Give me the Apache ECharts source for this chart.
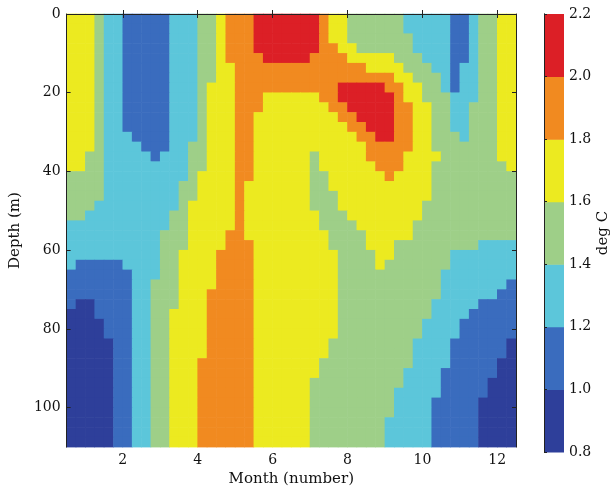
<!DOCTYPE html>
<html><head><meta charset="utf-8">
<script src="https://cdn.jsdelivr.net/npm/echarts@6/dist/echarts.min.js"></script>
<style>html,body{margin:0;padding:0;background:#fff}#c{width:612px;height:492px}</style>
</head><body><div id="c"></div>
<script>
// Grid cell centres (month, depth) of the sampled temperature field
const months = [0.625,0.875,1.125,1.375,1.625,1.875,2.125,2.375,2.625,2.875,3.125,3.375,3.625,3.875,4.125,4.375,
  4.625,4.875,5.125,5.375,5.625,5.875,6.125,6.375,6.625,6.875,7.125,7.375,7.625,7.875,8.125,8.375,
  8.625,8.875,9.125,9.375,9.625,9.875,10.125,10.375,10.625,10.875,11.125,11.375,11.625,11.875,12.125,12.375];
const depths = [1.25,3.75,6.25,8.75,11.25,13.75,16.25,18.75,21.25,23.75,26.25,28.75,31.25,33.75,36.25,38.75,
  41.25,43.75,46.25,48.75,51.25,53.75,56.25,58.75,61.25,63.75,66.25,68.75,71.25,73.75,76.25,78.75,
  81.25,83.75,86.25,88.75,91.25,93.75,96.25,98.75,101.25,103.75,106.25,108.75];
// temperature (deg C): one row per depth, one column per month cell
const temperature = [
 [1.7,1.7,1.7, 1.5, 1.3,1.3, 1.1,1.1,1.1,1.1,1.1, 1.3,1.3,1.3, 1.5,1.5, 1.7, 1.9,1.9,1.9, 2.1,2.1,2.1,2.1,2.1,2.1,2.1, 1.9, 1.7,1.7, 1.5,1.5,1.5,1.5,1.5,1.5, 1.3,1.3,1.3,1.3,1.3, 1.1,1.1, 1.3, 1.5,1.5, 1.7,1.7],
 [1.7,1.7,1.7, 1.5, 1.3,1.3, 1.1,1.1,1.1,1.1,1.1, 1.3,1.3,1.3, 1.5,1.5, 1.7, 1.9,1.9,1.9, 2.1,2.1,2.1,2.1,2.1,2.1,2.1, 1.9, 1.7,1.7, 1.5,1.5,1.5,1.5,1.5,1.5, 1.3,1.3,1.3,1.3,1.3, 1.1,1.1, 1.3, 1.5,1.5, 1.7,1.7],
 [1.7,1.7,1.7, 1.5, 1.3,1.3, 1.1,1.1,1.1,1.1,1.1, 1.3,1.3,1.3, 1.5,1.5, 1.7, 1.9,1.9,1.9, 2.1,2.1,2.1,2.1,2.1,2.1,2.1, 1.9, 1.7,1.7, 1.5,1.5,1.5,1.5,1.5,1.5,1.5, 1.3,1.3,1.3,1.3, 1.1,1.1, 1.3, 1.5,1.5, 1.7,1.7],
 [1.7,1.7,1.7, 1.5, 1.3,1.3, 1.1,1.1,1.1,1.1,1.1, 1.3,1.3,1.3, 1.5,1.5, 1.7, 1.9,1.9,1.9, 2.1,2.1,2.1,2.1,2.1,2.1,2.1, 1.9,1.9, 1.7,1.7, 1.5,1.5,1.5,1.5,1.5,1.5, 1.3,1.3,1.3,1.3, 1.1,1.1, 1.3, 1.5,1.5, 1.7,1.7],
 [1.7,1.7,1.7, 1.5, 1.3,1.3, 1.1,1.1,1.1,1.1,1.1, 1.3,1.3,1.3, 1.5,1.5, 1.7, 1.9,1.9,1.9,1.9, 2.1,2.1,2.1,2.1,2.1, 1.9,1.9,1.9,1.9, 1.7,1.7,1.7,1.7,1.7, 1.5,1.5,1.5, 1.3,1.3,1.3, 1.1,1.1, 1.3, 1.5,1.5, 1.7,1.7],
 [1.7,1.7,1.7, 1.5, 1.3,1.3, 1.1,1.1,1.1,1.1,1.1, 1.3,1.3,1.3, 1.5,1.5, 1.7,1.7, 1.9,1.9,1.9,1.9,1.9, 1.9,1.9,1.9,1.9,1.9, 1.9,1.9,1.9,1.9, 1.7,1.7,1.7,1.7, 1.5,1.5,1.5, 1.3,1.3, 1.1, 1.3,1.3, 1.5,1.5, 1.7,1.7],
 [1.7,1.7,1.7, 1.5, 1.3,1.3, 1.1,1.1,1.1,1.1,1.1, 1.3,1.3,1.3, 1.5,1.5, 1.7,1.7, 1.9,1.9,1.9,1.9,1.9, 1.9,1.9,1.9,1.9,1.9, 1.9,1.9,1.9,1.9,1.9, 1.9,1.9, 1.7,1.7, 1.5,1.5,1.5, 1.3, 1.1, 1.3,1.3, 1.5,1.5, 1.7,1.7],
 [1.7,1.7,1.7, 1.5, 1.3,1.3, 1.1,1.1,1.1,1.1,1.1, 1.3,1.3,1.3, 1.5, 1.7,1.7,1.7, 1.9,1.9,1.9,1.9,1.9, 1.9,1.9,1.9,1.9,1.9, 1.9, 2.1,2.1,2.1,2.1,2.1, 1.9,1.9, 1.7,1.7, 1.5,1.5, 1.3, 1.1, 1.3,1.3, 1.5,1.5, 1.7,1.7],
 [1.7,1.7,1.7, 1.5, 1.3,1.3, 1.1,1.1,1.1,1.1,1.1, 1.3,1.3,1.3, 1.5, 1.7,1.7,1.7, 1.9,1.9,1.9, 1.7,1.7,1.7,1.7,1.7,1.7, 1.9,1.9, 2.1,2.1,2.1,2.1,2.1,2.1, 1.9, 1.7,1.7, 1.5,1.5,1.5, 1.3,1.3,1.3, 1.5,1.5, 1.7,1.7],
 [1.7,1.7,1.7, 1.5, 1.3,1.3, 1.1,1.1,1.1,1.1,1.1, 1.3,1.3,1.3, 1.5, 1.7,1.7,1.7, 1.9,1.9,1.9, 1.7,1.7,1.7,1.7,1.7,1.7,1.7, 1.9,1.9, 2.1,2.1,2.1,2.1,2.1, 1.9,1.9, 1.7,1.7, 1.5,1.5, 1.3,1.3, 1.5,1.5,1.5, 1.7,1.7],
 [1.7,1.7,1.7, 1.5, 1.3,1.3, 1.1,1.1,1.1,1.1,1.1, 1.3,1.3,1.3, 1.5, 1.7,1.7,1.7, 1.9,1.9, 1.7,1.7,1.7,1.7,1.7, 1.7,1.7,1.7,1.7, 1.9,1.9, 2.1,2.1,2.1,2.1, 1.9,1.9, 1.7,1.7, 1.5,1.5, 1.3,1.3, 1.5,1.5,1.5, 1.7,1.7],
 [1.7,1.7,1.7, 1.5, 1.3,1.3, 1.1,1.1,1.1,1.1,1.1, 1.3,1.3,1.3, 1.5, 1.7,1.7,1.7, 1.9,1.9, 1.7,1.7,1.7,1.7,1.7, 1.7,1.7,1.7,1.7,1.7, 1.9,1.9, 2.1,2.1,2.1, 1.9,1.9, 1.7,1.7, 1.5,1.5, 1.3,1.3, 1.5,1.5,1.5, 1.7,1.7],
 [1.7,1.7,1.7, 1.5, 1.3,1.3,1.3, 1.1,1.1,1.1,1.1, 1.3,1.3,1.3, 1.5, 1.7,1.7,1.7, 1.9,1.9, 1.7,1.7,1.7,1.7,1.7, 1.7,1.7,1.7,1.7,1.7, 1.7, 1.9,1.9, 2.1,2.1, 1.9,1.9, 1.7,1.7, 1.5,1.5,1.5, 1.3, 1.5,1.5,1.5, 1.7,1.7],
 [1.7,1.7,1.7, 1.5, 1.3,1.3,1.3,1.3, 1.1,1.1,1.1, 1.3,1.3, 1.5,1.5, 1.7,1.7,1.7, 1.9,1.9, 1.7,1.7,1.7,1.7,1.7, 1.7,1.7,1.7,1.7,1.7, 1.7,1.7, 1.9,1.9,1.9,1.9,1.9, 1.7,1.7, 1.5,1.5,1.5,1.5,1.5,1.5,1.5, 1.7,1.7],
 [1.7,1.7, 1.5,1.5, 1.3,1.3,1.3,1.3,1.3, 1.1, 1.3,1.3,1.3, 1.5,1.5, 1.7,1.7,1.7, 1.9,1.9, 1.7,1.7,1.7,1.7,1.7,1.7, 1.5, 1.7,1.7,1.7,1.7,1.7, 1.9,1.9,1.9,1.9, 1.7,1.7,1.7,1.7, 1.5,1.5,1.5,1.5,1.5,1.5, 1.7,1.7],
 [1.7,1.7, 1.5,1.5, 1.3,1.3,1.3,1.3,1.3, 1.3,1.3,1.3,1.3, 1.5,1.5, 1.7,1.7,1.7, 1.9,1.9, 1.7,1.7,1.7,1.7,1.7,1.7, 1.5, 1.7,1.7,1.7,1.7,1.7,1.7, 1.9,1.9,1.9, 1.7,1.7,1.7, 1.5,1.5,1.5,1.5,1.5,1.5,1.5,1.5, 1.7],
 [1.5,1.5,1.5,1.5, 1.3,1.3,1.3,1.3,1.3, 1.3,1.3,1.3,1.3, 1.5, 1.7,1.7,1.7,1.7, 1.9,1.9, 1.7,1.7,1.7,1.7,1.7,1.7, 1.5,1.5, 1.7,1.7,1.7,1.7,1.7,1.7, 1.9, 1.7,1.7,1.7,1.7, 1.5,1.5,1.5,1.5,1.5, 1.5,1.5,1.5,1.5],
 [1.5,1.5,1.5,1.5, 1.3,1.3,1.3,1.3,1.3, 1.3,1.3,1.3, 1.5,1.5, 1.7,1.7,1.7,1.7, 1.9, 1.7,1.7,1.7,1.7,1.7,1.7,1.7, 1.5,1.5, 1.7,1.7,1.7,1.7,1.7, 1.7,1.7,1.7,1.7,1.7,1.7, 1.5,1.5,1.5,1.5,1.5, 1.5,1.5,1.5,1.5],
 [1.5,1.5,1.5,1.5, 1.3,1.3,1.3,1.3,1.3, 1.3,1.3,1.3, 1.5,1.5, 1.7,1.7,1.7,1.7, 1.9, 1.7,1.7,1.7,1.7,1.7,1.7,1.7, 1.5,1.5,1.5, 1.7,1.7,1.7,1.7,1.7, 1.7,1.7,1.7,1.7,1.7, 1.5,1.5,1.5,1.5,1.5, 1.5,1.5,1.5,1.5],
 [1.5,1.5,1.5, 1.3,1.3,1.3,1.3,1.3, 1.3,1.3,1.3,1.3, 1.5, 1.7,1.7,1.7,1.7,1.7, 1.9, 1.7,1.7,1.7,1.7,1.7,1.7,1.7, 1.5,1.5,1.5, 1.7,1.7,1.7,1.7,1.7, 1.7,1.7,1.7,1.7, 1.5,1.5,1.5,1.5,1.5, 1.5,1.5,1.5,1.5,1.5],
 [1.5,1.5, 1.3,1.3,1.3,1.3,1.3, 1.3,1.3,1.3,1.3, 1.5,1.5, 1.7,1.7,1.7,1.7,1.7, 1.9, 1.7,1.7,1.7,1.7,1.7, 1.7,1.7,1.7, 1.5,1.5,1.5, 1.7,1.7,1.7,1.7,1.7, 1.7,1.7,1.7, 1.5,1.5,1.5,1.5,1.5, 1.5,1.5,1.5,1.5,1.5],
 [1.3,1.3,1.3,1.3,1.3, 1.3,1.3,1.3,1.3,1.3, 1.3, 1.5,1.5, 1.7,1.7,1.7,1.7,1.7, 1.9, 1.7,1.7,1.7,1.7,1.7, 1.7,1.7,1.7, 1.5,1.5,1.5,1.5, 1.7,1.7,1.7,1.7,1.7,1.7, 1.5,1.5,1.5,1.5,1.5, 1.5,1.5,1.5,1.5,1.5, 1.5],
 [1.3,1.3,1.3,1.3,1.3, 1.3,1.3,1.3,1.3,1.3, 1.5,1.5,1.5, 1.7,1.7,1.7,1.7, 1.9,1.9, 1.7,1.7,1.7,1.7,1.7, 1.7,1.7,1.7,1.7, 1.5,1.5,1.5,1.5, 1.7,1.7,1.7,1.7,1.7, 1.5,1.5,1.5,1.5,1.5, 1.5,1.5,1.5,1.5,1.5, 1.5],
 [1.3,1.3,1.3,1.3,1.3, 1.3,1.3,1.3,1.3,1.3, 1.5,1.5,1.5, 1.7,1.7,1.7,1.7, 1.9,1.9,1.9, 1.7,1.7,1.7,1.7,1.7, 1.7,1.7,1.7, 1.5,1.5,1.5,1.5, 1.7,1.7,1.7, 1.5,1.5,1.5,1.5,1.5, 1.5,1.5,1.5,1.5, 1.3,1.3,1.3,1.3],
 [1.3,1.3,1.3,1.3,1.3, 1.3,1.3,1.3,1.3,1.3, 1.5,1.5, 1.7,1.7,1.7,1.7, 1.9,1.9,1.9,1.9, 1.7,1.7,1.7,1.7,1.7, 1.7,1.7,1.7,1.7, 1.5,1.5,1.5,1.5, 1.7,1.7, 1.5,1.5,1.5,1.5,1.5,1.5, 1.3,1.3,1.3,1.3,1.3,1.3,1.3],
 [1.3, 1.1,1.1,1.1,1.1,1.1, 1.3,1.3,1.3,1.3, 1.5,1.5, 1.7,1.7,1.7,1.7, 1.9,1.9,1.9,1.9, 1.7,1.7,1.7,1.7,1.7, 1.7,1.7,1.7,1.7, 1.5,1.5,1.5,1.5, 1.7, 1.5,1.5,1.5,1.5,1.5,1.5,1.5, 1.3,1.3,1.3,1.3,1.3,1.3,1.3],
 [1.1,1.1,1.1,1.1,1.1,1.1,1.1, 1.3,1.3,1.3, 1.5,1.5, 1.7,1.7,1.7,1.7, 1.9,1.9,1.9,1.9, 1.7,1.7,1.7,1.7,1.7, 1.7,1.7,1.7,1.7, 1.5,1.5,1.5,1.5,1.5, 1.5,1.5,1.5,1.5,1.5,1.5, 1.3,1.3,1.3,1.3,1.3,1.3,1.3,1.3],
 [1.1,1.1,1.1,1.1,1.1,1.1,1.1, 1.3,1.3, 1.5,1.5,1.5, 1.7,1.7,1.7,1.7, 1.9,1.9,1.9,1.9, 1.7,1.7,1.7,1.7,1.7, 1.7,1.7,1.7,1.7, 1.5,1.5,1.5,1.5,1.5, 1.5,1.5,1.5,1.5,1.5,1.5, 1.3,1.3,1.3,1.3,1.3,1.3,1.3, 1.1],
 [1.1,1.1,1.1,1.1,1.1,1.1,1.1, 1.3,1.3, 1.5,1.5,1.5, 1.7,1.7,1.7, 1.9,1.9,1.9,1.9,1.9, 1.7,1.7,1.7,1.7,1.7, 1.7,1.7,1.7,1.7, 1.5,1.5,1.5,1.5,1.5, 1.5,1.5,1.5,1.5,1.5,1.5, 1.3,1.3,1.3,1.3,1.3,1.3, 1.1,1.1],
 [1.1, 0.9,0.9, 1.1,1.1,1.1,1.1, 1.3,1.3, 1.5,1.5,1.5, 1.7,1.7,1.7, 1.9,1.9,1.9,1.9,1.9, 1.7,1.7,1.7,1.7,1.7, 1.7,1.7,1.7,1.7, 1.5,1.5,1.5,1.5,1.5, 1.5,1.5,1.5,1.5,1.5, 1.3,1.3,1.3,1.3,1.3, 1.1,1.1,1.1,1.1],
 [0.9,0.9,0.9, 1.1,1.1,1.1,1.1, 1.3,1.3, 1.5,1.5, 1.7,1.7,1.7,1.7, 1.9,1.9,1.9,1.9,1.9, 1.7,1.7,1.7,1.7,1.7, 1.7,1.7,1.7,1.7, 1.5,1.5,1.5,1.5,1.5, 1.5,1.5,1.5,1.5,1.5, 1.3,1.3,1.3,1.3, 1.1,1.1,1.1,1.1,1.1],
 [0.9,0.9,0.9,0.9, 1.1,1.1,1.1, 1.3,1.3, 1.5,1.5, 1.7,1.7,1.7,1.7, 1.9,1.9,1.9,1.9,1.9, 1.7,1.7,1.7,1.7,1.7, 1.7,1.7,1.7,1.7, 1.5,1.5,1.5,1.5,1.5, 1.5,1.5,1.5,1.5, 1.3,1.3,1.3,1.3, 1.1,1.1,1.1,1.1,1.1,1.1],
 [0.9,0.9,0.9,0.9, 1.1,1.1,1.1, 1.3,1.3, 1.5,1.5, 1.7,1.7,1.7,1.7, 1.9,1.9,1.9,1.9,1.9, 1.7,1.7,1.7,1.7,1.7, 1.7,1.7,1.7,1.7, 1.5,1.5,1.5,1.5,1.5, 1.5,1.5,1.5,1.5, 1.3,1.3,1.3,1.3, 1.1,1.1,1.1,1.1,1.1,1.1],
 [0.9,0.9,0.9,0.9,0.9, 1.1,1.1, 1.3,1.3, 1.5,1.5, 1.7,1.7,1.7,1.7, 1.9,1.9,1.9,1.9,1.9, 1.7,1.7,1.7,1.7,1.7, 1.7,1.7,1.7, 1.5,1.5,1.5,1.5,1.5, 1.5,1.5,1.5,1.5, 1.3,1.3,1.3,1.3, 1.1,1.1,1.1,1.1,1.1,1.1, 0.9],
 [0.9,0.9,0.9,0.9,0.9, 1.1,1.1, 1.3,1.3, 1.5,1.5, 1.7,1.7,1.7,1.7, 1.9,1.9,1.9,1.9,1.9, 1.7,1.7,1.7,1.7,1.7, 1.7,1.7,1.7, 1.5,1.5,1.5,1.5,1.5, 1.5,1.5,1.5,1.5, 1.3,1.3,1.3,1.3, 1.1,1.1,1.1,1.1,1.1,1.1, 0.9],
 [0.9,0.9,0.9,0.9,0.9, 1.1,1.1, 1.3,1.3, 1.5,1.5, 1.7,1.7,1.7, 1.9,1.9,1.9,1.9,1.9,1.9, 1.7,1.7,1.7,1.7,1.7, 1.7,1.7, 1.5,1.5,1.5,1.5,1.5, 1.5,1.5,1.5,1.5,1.5, 1.3,1.3,1.3,1.3, 1.1,1.1,1.1,1.1,1.1, 0.9,0.9],
 [0.9,0.9,0.9,0.9,0.9, 1.1,1.1, 1.3,1.3, 1.5,1.5, 1.7,1.7,1.7, 1.9,1.9,1.9,1.9,1.9,1.9, 1.7,1.7,1.7,1.7,1.7, 1.7,1.7, 1.5,1.5,1.5,1.5,1.5, 1.5,1.5,1.5,1.5, 1.3,1.3,1.3,1.3, 1.1,1.1,1.1,1.1,1.1,1.1, 0.9,0.9],
 [0.9,0.9,0.9,0.9,0.9, 1.1,1.1, 1.3,1.3, 1.5,1.5, 1.7,1.7,1.7, 1.9,1.9,1.9,1.9,1.9,1.9, 1.7,1.7,1.7,1.7,1.7, 1.7, 1.5,1.5,1.5,1.5,1.5, 1.5,1.5,1.5,1.5,1.5, 1.3,1.3,1.3,1.3, 1.1,1.1,1.1,1.1,1.1, 0.9,0.9,0.9],
 [0.9,0.9,0.9,0.9,0.9, 1.1,1.1, 1.3,1.3, 1.5,1.5, 1.7,1.7,1.7, 1.9,1.9,1.9,1.9,1.9,1.9, 1.7,1.7,1.7,1.7,1.7, 1.7, 1.5,1.5,1.5,1.5,1.5, 1.5,1.5,1.5,1.5, 1.3,1.3,1.3,1.3,1.3, 1.1,1.1,1.1,1.1,1.1, 0.9,0.9,0.9],
 [0.9,0.9,0.9,0.9,0.9, 1.1,1.1, 1.3,1.3, 1.5,1.5, 1.7,1.7,1.7, 1.9,1.9,1.9,1.9,1.9,1.9, 1.7,1.7,1.7,1.7,1.7, 1.7, 1.5,1.5,1.5,1.5,1.5, 1.5,1.5,1.5,1.5, 1.3,1.3,1.3,1.3, 1.1,1.1,1.1,1.1,1.1, 0.9,0.9,0.9,0.9],
 [0.9,0.9,0.9,0.9,0.9, 1.1,1.1, 1.3,1.3, 1.5,1.5, 1.7,1.7,1.7, 1.9,1.9,1.9,1.9,1.9,1.9, 1.7,1.7,1.7,1.7,1.7, 1.7, 1.5,1.5,1.5,1.5,1.5, 1.5,1.5,1.5,1.5, 1.3,1.3,1.3,1.3, 1.1,1.1,1.1,1.1,1.1, 0.9,0.9,0.9,0.9],
 [0.9,0.9,0.9,0.9,0.9, 1.1,1.1, 1.3,1.3, 1.5,1.5, 1.7,1.7,1.7, 1.9,1.9,1.9,1.9,1.9,1.9, 1.7,1.7,1.7,1.7,1.7, 1.7, 1.5,1.5,1.5,1.5,1.5, 1.5,1.5,1.5, 1.3,1.3,1.3,1.3,1.3, 1.1,1.1,1.1,1.1,1.1, 0.9,0.9,0.9,0.9],
 [0.9,0.9,0.9,0.9,0.9, 1.1,1.1, 1.3,1.3, 1.5,1.5, 1.7,1.7,1.7, 1.9,1.9,1.9,1.9,1.9,1.9, 1.7,1.7,1.7,1.7,1.7, 1.7, 1.5,1.5,1.5,1.5,1.5, 1.5,1.5,1.5, 1.3,1.3,1.3,1.3,1.3, 1.1,1.1,1.1,1.1,1.1, 0.9,0.9,0.9,0.9],
 [0.9,0.9,0.9,0.9,0.9, 1.1,1.1, 1.3,1.3, 1.5,1.5, 1.7,1.7,1.7, 1.9,1.9,1.9,1.9,1.9,1.9, 1.7,1.7,1.7,1.7,1.7, 1.7, 1.5,1.5,1.5,1.5,1.5, 1.5,1.5,1.5, 1.3,1.3,1.3,1.3,1.3, 1.1,1.1,1.1,1.1,1.1, 0.9,0.9,0.9,0.9]
];
// contour levels and their fill colours
const levels = [0.8,1.0,1.2,1.4,1.6,1.8,2.0,2.2];
const levelColors = ['#2e3f9a','#3a6cbe','#5cc6da','#9ecf88','#ecea20','#f18a20','#dc1f26'];
const xTicks = [2,4,6,8,10,12];
const yTicks = [0,20,40,60,80,100];

if (temperature.length !== depths.length) throw new Error('rows ' + temperature.length);
temperature.forEach((r, i) => { if (r.length !== months.length) throw new Error('row ' + i + ' has ' + r.length); });

const FONT = 'DejaVu Serif';
const cellW = months[1] - months[0];
const cellH = depths[1] - depths[0];

const fieldData = [];
temperature.forEach((row, i) => row.forEach((v, j) => fieldData.push([months[j], depths[i], v])));
const barData = levelColors.map((c, i) => [i, levels[i], levels[i + 1]]);
const pieces = levelColors.map((c, i) => ({gte: levels[i], lt: levels[i + 1], color: c}));

const tickLbl = {fontFamily: FONT, fontSize: 14, color: '#111'};
const nameStyle = {fontFamily: FONT, fontSize: 15, color: '#111'};
const chart = echarts.init(document.getElementById('c'), null, {renderer: 'canvas'});
chart.setOption({
  animation: false,
  backgroundColor: '#fff',
  grid: [
    {left: 62, top: 14, width: 454, height: 438, show: false},
    {left: 544, top: 14, width: 23, height: 438, show: false}
  ],
  visualMap: [{type: 'piecewise', seriesIndex: 0, dimension: 2, pieces: pieces, show: false}],
  xAxis: [
    {gridIndex: 0, type: 'value', min: 0.5, max: 12.5, position: 'bottom', z: 5,
     axisLine: {show: true, lineStyle: {color: '#222', width: 1}},
     axisTick: {show: true, inside: true, length: 4, customValues: xTicks, lineStyle: {color: '#222'}},
     axisLabel: {show: true, customValues: xTicks, margin: 6, ...tickLbl},
     splitLine: {show: false},
     name: 'Month (number)', nameLocation: 'middle', nameGap: 22, nameTextStyle: nameStyle},
    {gridIndex: 0, type: 'value', min: 0.5, max: 12.5, position: 'top', z: 5,
     axisLine: {show: true, lineStyle: {color: '#222', width: 1}},
     axisTick: {show: true, inside: true, length: 4, customValues: xTicks, lineStyle: {color: '#222'}},
     axisLabel: {show: false}, splitLine: {show: false}},
    {gridIndex: 1, type: 'value', min: 0, max: 1, show: false}
  ],
  yAxis: [
    {gridIndex: 0, type: 'value', min: 0, max: 110, inverse: true, position: 'left', z: 5,
     axisLine: {show: true, lineStyle: {color: '#222', width: 1}},
     axisTick: {show: true, inside: true, length: 4, customValues: yTicks, lineStyle: {color: '#222'}},
     axisLabel: {show: true, customValues: yTicks, margin: 6, ...tickLbl},
     splitLine: {show: false},
     name: 'Depth (m)', nameLocation: 'middle', nameGap: 43, nameRotate: 90, nameTextStyle: nameStyle},
    {gridIndex: 0, type: 'value', min: 0, max: 110, inverse: true, position: 'right', z: 5,
     axisLine: {show: true, lineStyle: {color: '#222', width: 1}},
     axisTick: {show: true, inside: true, length: 4, customValues: yTicks, lineStyle: {color: '#222'}},
     axisLabel: {show: false}, splitLine: {show: false}},
    {gridIndex: 1, type: 'value', min: 0.8, max: 2.2, position: 'right', z: 5,
     axisLine: {show: true, lineStyle: {color: '#222', width: 1}},
     axisTick: {show: true, inside: false, length: 3, customValues: levels, lineStyle: {color: '#222'}},
     axisLabel: {show: true, customValues: levels, margin: 5, formatter: v => v.toFixed(1), ...tickLbl},
     splitLine: {show: false},
     name: 'deg C', nameLocation: 'middle', nameGap: 32, nameRotate: 90, nameTextStyle: nameStyle},
    {gridIndex: 1, type: 'value', min: 0.8, max: 2.2, position: 'left', z: 5,
     axisLine: {show: true, lineStyle: {color: '#222', width: 1}},
     axisTick: {show: false}, axisLabel: {show: false}, splitLine: {show: false}}
  ],
  series: [
    {type: 'custom', xAxisIndex: 0, yAxisIndex: 0, data: fieldData, z: 2,
     encode: {x: 0, y: 1},
     renderItem: function (params, api) {
       const x = api.value(0), y = api.value(1);
       const p0 = api.coord([x - cellW / 2, y - cellH / 2]);
       const p1 = api.coord([x + cellW / 2, y + cellH / 2]);
       return {type: 'rect',
         shape: {x: Math.min(p0[0], p1[0]) - 0.3, y: Math.min(p0[1], p1[1]) - 0.3,
                 width: Math.abs(p1[0] - p0[0]) + 0.6, height: Math.abs(p1[1] - p0[1]) + 0.6},
         style: {fill: api.visual('color')}};
     }},
    {type: 'custom', xAxisIndex: 2, yAxisIndex: 2, data: barData, z: 2,
     renderItem: function (params, api) {
       const i = api.value(0);
       const p0 = api.coord([0, api.value(1)]);
       const p1 = api.coord([1, api.value(2)]);
       return {type: 'rect',
         shape: {x: p0[0], y: Math.min(p0[1], p1[1]), width: p1[0] - p0[0], height: Math.abs(p1[1] - p0[1]) + 0.5},
         style: {fill: levelColors[i]}};
     }}
  ]
});
</script></body></html>
